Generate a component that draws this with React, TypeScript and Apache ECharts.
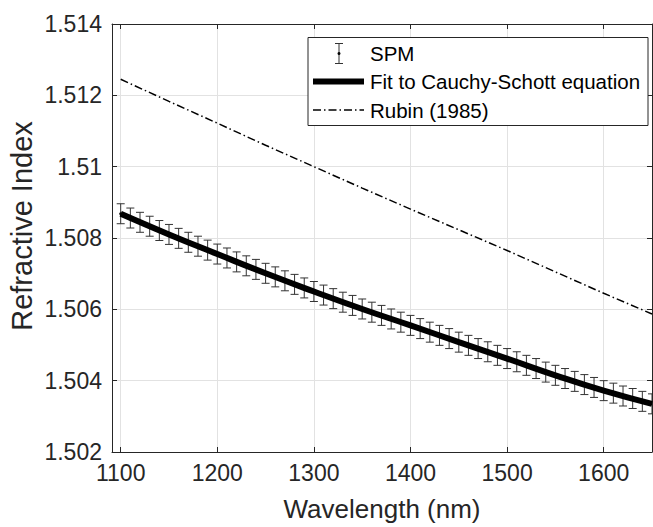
import React, { useEffect, useRef } from "react";
import * as echarts from "echarts";

// ---- data ----
const wavelengths = [
  1100, 1110, 1120, 1130, 1140, 1150, 1160, 1170, 1180, 1190,
  1200, 1210, 1220, 1230, 1240, 1250, 1260, 1270, 1280, 1290,
  1300, 1310, 1320, 1330, 1340, 1350, 1360, 1370, 1380, 1390,
  1400, 1410, 1420, 1430, 1440, 1450, 1460, 1470, 1480, 1490,
  1500, 1510, 1520, 1530, 1540, 1550, 1560, 1570, 1580, 1590,
  1600, 1610, 1620, 1630, 1640, 1650,
];
const spmValues = [
  1.50868, 1.50856, 1.50844, 1.50833, 1.50821, 1.5081, 1.50799, 1.50788, 1.50777, 1.50766,
  1.50755, 1.50744, 1.50733, 1.50722, 1.50712, 1.50701, 1.50691, 1.5068, 1.5067, 1.5066,
  1.5065, 1.5064, 1.5063, 1.5062, 1.50611, 1.50601, 1.50592, 1.50583, 1.50573, 1.50564,
  1.50555, 1.50546, 1.50536, 1.50527, 1.50518, 1.50508, 1.50499, 1.5049, 1.50481, 1.50471,
  1.50462, 1.50453, 1.50443, 1.50434, 1.50424, 1.50415, 1.50406, 1.50398, 1.50389, 1.50381,
  1.50372, 1.50365, 1.50357, 1.5035, 1.50342, 1.50335,
];
const spmErrors = [
  0.00028, 0.00028, 0.00028, 0.00028, 0.00028, 0.00028, 0.00028, 0.00028, 0.00028, 0.00028,
  0.00028, 0.00028, 0.00028, 0.00028, 0.00028, 0.00028, 0.00028, 0.00028, 0.00028, 0.00028,
  0.00028, 0.00028, 0.00028, 0.00028, 0.00028, 0.00028, 0.00028, 0.00028, 0.00028, 0.00028,
  0.00028, 0.00028, 0.00028, 0.00028, 0.00028, 0.00028, 0.00028, 0.00028, 0.00028, 0.00028,
  0.00028, 0.00028, 0.00028, 0.00028, 0.00028, 0.00028, 0.00028, 0.00028, 0.00028, 0.00028,
  0.00028, 0.00028, 0.00028, 0.00028, 0.00028, 0.00028,
];
const fitWavelengths = [1100, 1150, 1200, 1250, 1300, 1350, 1400, 1450, 1500, 1550, 1600, 1650];
const fitValues = [
  1.50868, 1.5081, 1.50755, 1.50701, 1.5065, 1.50601, 1.50555, 1.50508, 1.50462, 1.50415,
  1.50372, 1.50335,
];
const rubinWavelengths = [1100, 1150, 1200, 1250, 1300, 1350, 1400, 1450, 1500, 1550, 1600, 1650];
const rubinValues = [
  1.51245, 1.51183, 1.51122, 1.5106, 1.51, 1.5094, 1.50881, 1.50823, 1.50765, 1.50705,
  1.50645, 1.50587,
];
const xRange = [1091, 1650];
const yRange = [1.502, 1.514];
const yStep = 0.002;
const seriesNames = ["SPM", "Fit to Cauchy-Schott equation", "Rubin (1985)"];
const xTitle = "Wavelength (nm)";
const yTitle = "Refractive Index";

const FONT = "'Liberation Sans', Arial, Helvetica, sans-serif";
const AXIS_COLOR = "#262626";
const GRID_COLOR = "#e2e2e2";
const DASH_DOT = [8, 3, 1.5, 3];

export default function App() {
  const ref = useRef<HTMLDivElement>(null);

  useEffect(() => {
    if (!ref.current) return;
    const chart = echarts.init(ref.current, undefined, { renderer: "svg" });

    const axisLine = { show: true, onZero: false, lineStyle: { color: AXIS_COLOR, width: 1 } };
    const axisTick = { show: true, inside: true, length: 5, lineStyle: { color: AXIS_COLOR, width: 1 } };

    const lx = 308;
    const ly = 37.5;
    const legendText = (text: string, y: number) => ({
      type: "text",
      x: 370,
      y,
      z: 101,
      style: { text, fontSize: 20.5, fontFamily: FONT, fill: "#000", verticalAlign: "middle", align: "left" },
    });
    const barStyle = { stroke: "#333", lineWidth: 1 };
    const graphics: any[] = [
      {
        type: "rect",
        z: 100,
        shape: { x: lx, y: ly, width: 340, height: 88 },
        style: { fill: "#ffffff", stroke: AXIS_COLOR, lineWidth: 1 },
      },
      { type: "line", z: 101, shape: { x1: 339, y1: 43.5, x2: 339, y2: 63.5 }, style: barStyle },
      { type: "line", z: 101, shape: { x1: 335, y1: 43.5, x2: 343, y2: 43.5 }, style: barStyle },
      { type: "line", z: 101, shape: { x1: 335, y1: 63.5, x2: 343, y2: 63.5 }, style: barStyle },
      { type: "circle", z: 101, shape: { cx: 339, cy: 53.5, r: 1.5 }, style: { fill: "#000" } },
      legendText(seriesNames[0], 53.5),
      { type: "line", z: 101, shape: { x1: 313, y1: 81.5, x2: 364, y2: 81.5 }, style: { stroke: "#000", lineWidth: 6 } },
      legendText(seriesNames[1], 81.5),
      {
        type: "line",
        z: 101,
        shape: { x1: 313, y1: 110, x2: 364, y2: 110 },
        style: { stroke: "#000", lineWidth: 1.5, lineDash: DASH_DOT },
      },
      legendText(seriesNames[2], 110),
      {
        type: "text",
        x: 22,
        y: 226,
        rotation: Math.PI / 2,
        z: 50,
        style: {
          text: yTitle,
          fontSize: 29,
          fontFamily: FONT,
          fill: AXIS_COLOR,
          align: "center",
          verticalAlign: "middle",
        },
      },
    ];

    chart.setOption({
      animation: false,
      backgroundColor: "#ffffff",
      textStyle: { fontFamily: FONT },
      grid: { left: 112, right: 1, top: 24, bottom: 72, containLabel: false },
      xAxis: [
        {
          type: "value",
          position: "bottom",
          min: xRange[0],
          max: xRange[1],
          splitNumber: 5,
          axisLine,
          axisTick,
          axisLabel: {
            color: AXIS_COLOR,
            fontSize: 23,
            fontFamily: FONT,
            margin: 9,
            showMinLabel: false,
            showMaxLabel: false,
            formatter: (v: number) => String(v),
          },
          splitLine: { show: true, lineStyle: { color: GRID_COLOR, width: 1 } },
          name: xTitle,
          nameLocation: "middle",
          nameGap: 44,
          nameTextStyle: { color: AXIS_COLOR, fontSize: 26, fontFamily: FONT },
        },
        {
          type: "value",
          position: "top",
          min: xRange[0],
          max: xRange[1],
          splitNumber: 5,
          axisLine,
          axisTick,
          axisLabel: { show: false },
          splitLine: { show: false },
        },
      ],
      yAxis: [
        {
          type: "value",
          position: "left",
          min: yRange[0],
          max: yRange[1],
          interval: yStep,
          axisLine,
          axisTick,
          axisLabel: { color: AXIS_COLOR, fontSize: 23, fontFamily: FONT, margin: 10 },
          splitLine: { show: true, lineStyle: { color: GRID_COLOR, width: 1 } },
        },
        {
          type: "value",
          position: "right",
          min: yRange[0],
          max: yRange[1],
          interval: yStep,
          axisLine,
          axisTick,
          axisLabel: { show: false },
          splitLine: { show: false },
        },
      ],
      series: [
        {
          name: seriesNames[0],
          type: "custom",
          xAxisIndex: 0,
          yAxisIndex: 0,
          clip: true,
          z: 2,
          data: wavelengths.map((w, i) => [w, spmValues[i], spmErrors[i]]),
          encode: { x: 0, y: 1 },
          renderItem: (params: any, api: any) => {
            const x = api.value(0);
            const y = api.value(1);
            const e = api.value(2);
            const top = api.coord([x, y + e]);
            const bot = api.coord([x, y - e]);
            const mid = api.coord([x, y]);
            const cw = 4;
            const st = { stroke: "#333333", lineWidth: 1, fill: "none" };
            return {
              type: "group",
              children: [
                { type: "line", shape: { x1: top[0], y1: top[1], x2: bot[0], y2: bot[1] }, style: st },
                { type: "line", shape: { x1: top[0] - cw, y1: top[1], x2: top[0] + cw, y2: top[1] }, style: st },
                { type: "line", shape: { x1: bot[0] - cw, y1: bot[1], x2: bot[0] + cw, y2: bot[1] }, style: st },
                { type: "circle", shape: { cx: mid[0], cy: mid[1], r: 1.5 }, style: { fill: "#000" } },
              ],
            };
          },
        },
        {
          name: seriesNames[1],
          type: "line",
          xAxisIndex: 0,
          yAxisIndex: 0,
          z: 3,
          smooth: true,
          symbol: "none",
          lineStyle: { color: "#000", width: 6 },
          data: fitWavelengths.map((w, i) => [w, fitValues[i]]),
        },
        {
          name: seriesNames[2],
          type: "line",
          xAxisIndex: 0,
          yAxisIndex: 0,
          z: 3,
          symbol: "none",
          lineStyle: { color: "#000", width: 1.5, type: DASH_DOT },
          data: rubinWavelengths.map((w, i) => [w, rubinValues[i]]),
        },
      ],
      graphic: graphics,
    });

    return () => chart.dispose();
  }, []);

  return (
    <div
      ref={ref}
      style={{ position: "fixed", left: 0, top: 0, width: 653, height: 527, background: "#fff" }}
    />
  );
}
